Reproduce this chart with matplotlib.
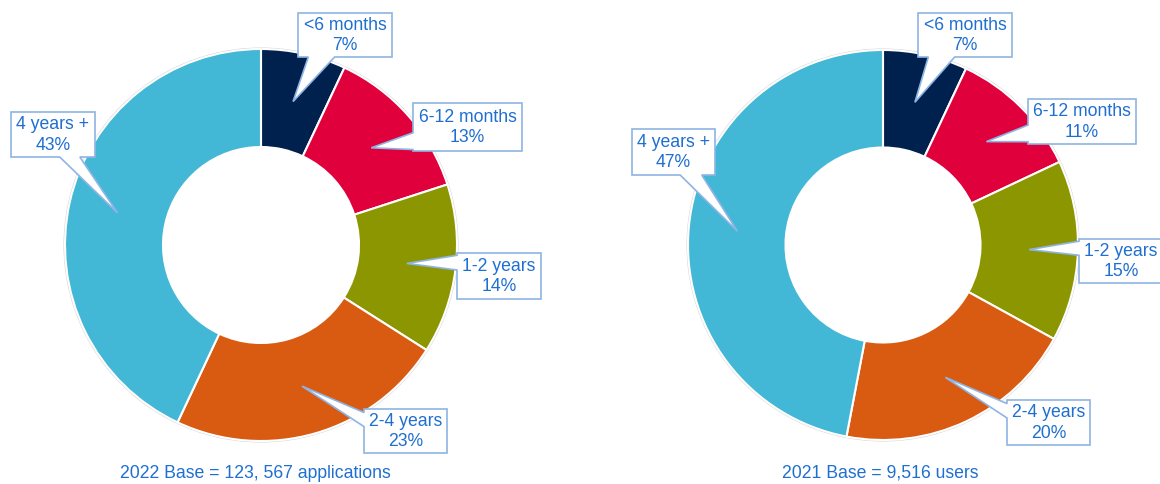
import matplotlib
matplotlib.use('Agg')
import matplotlib.pyplot as plt
from matplotlib.patches import Polygon, Circle
import numpy as np

# ---- data ----
categories = ['<6 months', '6-12 months', '1-2 years', '2-4 years', '4 years +']
share_2022 = [7, 13, 14, 23, 43]
share_2021 = [7, 11, 15, 20, 47]
colors = ['#00214E', '#E0003C', '#8C9600', '#D95B12', '#43B8D6']
caption_2022 = '2022 Base = 123, 567 applications'
caption_2021 = '2021 Base = 9,516 users'

TEXT_COLOR = '#1F6FD1'
BORDER = '#8EB4E3'
FONT = 'Liberation Sans'
FS = 12.7

W, H = 1160, 484
fig = plt.figure(figsize=(W / 100, H / 100), dpi=100)
ax = fig.add_axes([0, 0, 1, 1])


def Y(yp):
    return H - yp


# callout boxes in pixel layout: (x0, y0, x1, y1, side, f1, f2)
charts = [
    dict(values=share_2022, cx=261, cy=245, R=196, caption=caption_2022, capx=255,
         boxes=[(298, 13, 392, 57, 'bottom', 0.11, 0.39),
                (413, 103, 522, 151, 'left', 0.62, 0.97),
                (457, 253, 541, 299, 'left', 0.05, 0.37),
                (364, 409, 447, 453, 'left', 0.08, 0.40),
                (11, 112, 95, 157, 'bottom', 0.58, 0.82)]),
    dict(values=share_2021, cx=883, cy=245, R=195, caption=caption_2021, capx=880,
         boxes=[(918, 13, 1012, 57, 'bottom', 0.11, 0.39),
                (1028, 99, 1136, 144, 'left', 0.58, 0.95),
                (1079, 239, 1163, 283, 'left', 0.05, 0.37),
                (1007, 400, 1090, 445, 'left', 0.08, 0.40),
                (632, 129, 715, 175, 'bottom', 0.58, 0.84)]),
]

for ch in charts:
    cx, cy, R = ch['cx'], Y(ch['cy']), ch['R']
    ax.add_patch(Circle((cx, cy), R + 0.8, facecolor='none', edgecolor='#d4d4d4', lw=1.0, zorder=0))
    wedges, _ = ax.pie(ch['values'], colors=colors, startangle=90, counterclock=False,
                       center=(cx, cy), radius=R,
                       wedgeprops=dict(width=R * 0.5, edgecolor='white', linewidth=1.5))
    for w, val, cat, box in zip(wedges, ch['values'], categories, ch['boxes']):
        mid = np.deg2rad((w.theta1 + w.theta2) / 2)
        tx = cx + 0.75 * R * np.cos(mid)
        ty = cy + 0.75 * R * np.sin(mid)
        x0, y0, x1, y1, side, f1, f2 = box
        if side == 'bottom':
            bw = x1 - x0
            pts = [(x0, Y(y0)), (x1, Y(y0)), (x1, Y(y1)),
                   (x0 + f2 * bw, Y(y1)), (tx, ty), (x0 + f1 * bw, Y(y1)), (x0, Y(y1))]
        else:
            bh = y1 - y0
            pts = [(x0, Y(y0)), (x1, Y(y0)), (x1, Y(y1)), (x0, Y(y1)),
                   (x0, Y(y0 + f2 * bh)), (tx, ty), (x0, Y(y0 + f1 * bh))]
        ax.add_patch(Polygon(pts, closed=True, facecolor='white', edgecolor=BORDER,
                             lw=1.2, joinstyle='miter', zorder=5))
        ax.text((x0 + x1) / 2, Y((y0 + y1) / 2 + 0.5), f'{cat}\n{val}%', ha='center', va='center',
                color=TEXT_COLOR, fontsize=FS, family=FONT, linespacing=1.3, zorder=6)
    ax.text(ch['capx'], Y(473), ch['caption'], ha='center', va='center',
            color=TEXT_COLOR, fontsize=FS, family=FONT)

ax.set_xlim(0, W)
ax.set_ylim(0, H)
ax.set_aspect('auto')
ax.axis('off')
fig.savefig('out.png', dpi=100)
